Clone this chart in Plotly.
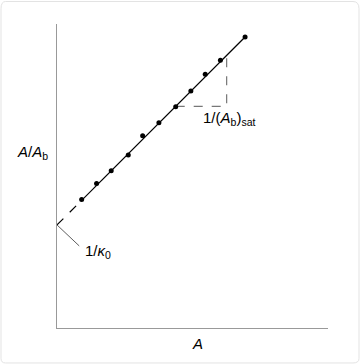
import plotly.graph_objects as go

# Data (arbitrary units)
a_vals = [0.91, 1.46, 2.00, 2.63, 3.16, 3.76, 4.38, 4.94, 5.47, 6.03, 6.94]
ratio_vals = [4.23, 4.75, 5.17, 5.69, 6.32, 6.75, 7.28, 7.80, 8.35, 8.81, 9.57]
intercept = 3.39   # 1/K0
slope = 0.891      # 1/(Ab)sat
tri_x = [4.38, 6.26]
leader_end = [0.82, 2.70]

def fit(x):
    return intercept + slope * x

fig = go.Figure()

# dashed extrapolation to the intercept
fig.add_trace(go.Scatter(x=[0, a_vals[0]], y=[fit(0), fit(a_vals[0])], mode="lines",
                         line=dict(color="black", width=1.2, dash="dash"), hoverinfo="skip"))
# solid fit line
fig.add_trace(go.Scatter(x=[a_vals[0], a_vals[-1]], y=[fit(a_vals[0]), fit(a_vals[-1])], mode="lines",
                         line=dict(color="black", width=1.2), hoverinfo="skip"))
# slope triangle
fig.add_trace(go.Scatter(x=[tri_x[0], tri_x[1], tri_x[1]],
                         y=[fit(tri_x[0]), fit(tri_x[0]), fit(tri_x[1])], mode="lines",
                         line=dict(color="#777777", width=1.2, dash="dash"), hoverinfo="skip"))
# leader line for intercept
fig.add_trace(go.Scatter(x=[0, leader_end[0]], y=[intercept, leader_end[1]], mode="lines",
                         line=dict(color="#333333", width=0.8), hoverinfo="skip"))
# data points
fig.add_trace(go.Scatter(x=a_vals, y=ratio_vals, mode="markers",
                         marker=dict(color="black", size=5), hoverinfo="skip"))

font = dict(family="Liberation Sans, Arial, sans-serif", size=15, color="black")
anc = dict(xanchor="center", yanchor="middle", showarrow=False, font=font)

fig.add_annotation(x=-0.092, y=0.576, xref="paper", yref="paper",
                   text="<i>A</i>/<i>A</i><sub>b</sub>", **anc)
fig.add_annotation(x=0.517, y=-0.05, xref="paper", yref="paper",
                   text="<i>A</i>", **anc)
fig.add_annotation(x=6.35, y=6.9,
                   text="1/(<i>A</i><sub>b</sub>)<sub>sat</sub>", **anc)
fig.add_annotation(x=1.51, y=2.53,
                   text="1/<i>κ</i><sub>0</sub>", **anc)

# light rounded border around the figure
fig.add_shape(type="path", xref="paper", yref="paper",
              path="M -0.19 1.0740 L 1.0923 1.0740 Q 1.1144 1.0740 1.1144 1.05 L 1.1144 -0.1 "
                   "Q 1.1144 -0.115 1.0923 -0.115 L -0.1900 -0.115 Q -0.2066 -0.115 -0.2066 -0.1 "
                   "L -0.2066 1.05 Q -0.2066 1.0740 -0.19 1.0740 Z",
              line=dict(color="#e3e3e3", width=1))

fig.update_layout(
    width=361, height=364,
    margin=dict(l=57, r=33, t=24, b=36),
    paper_bgcolor="white", plot_bgcolor="white",
    showlegend=False,
    xaxis=dict(range=[0, 10], showgrid=False, zeroline=False, showticklabels=False, ticks="",
               showline=True, linecolor="#999999", linewidth=1.2),
    yaxis=dict(range=[0, 10], showgrid=False, zeroline=False, showticklabels=False, ticks="",
               showline=True, linecolor="#999999", linewidth=1.2),
)

fig.write_html("out.html")
